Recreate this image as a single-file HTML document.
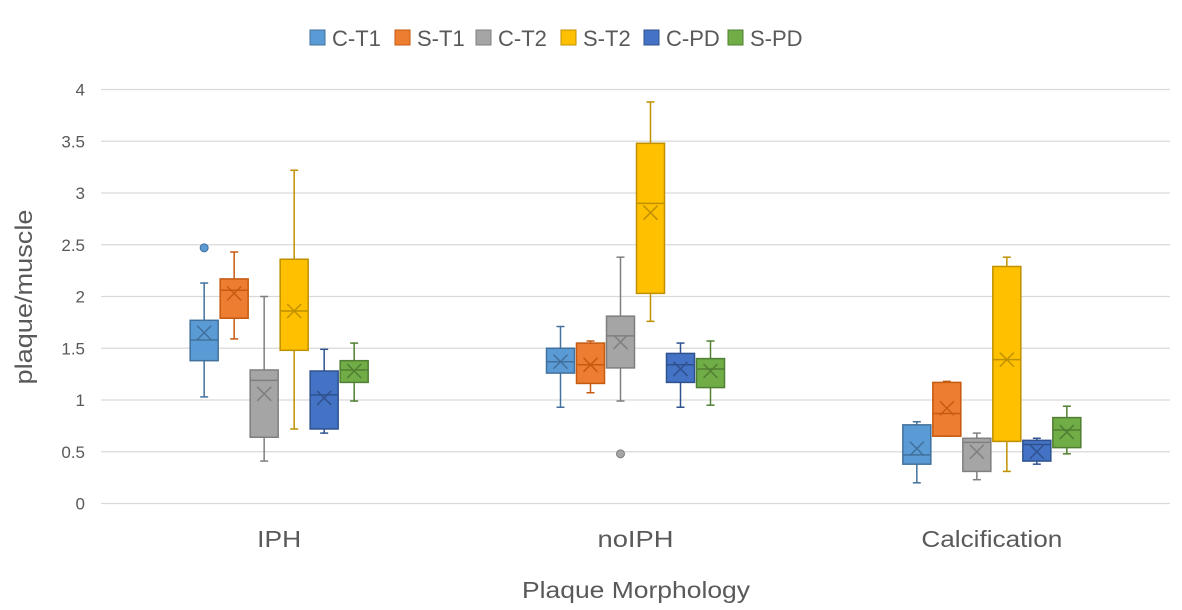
<!DOCTYPE html>
<html><head><meta charset="utf-8"><style>
body{margin:0;background:#fff;}
svg{display:block;font-family:"Liberation Sans",sans-serif;}
</style></head><body>
<svg id="chart" width="1182" height="610" viewBox="0 0 1182 610">
<rect width="1182" height="610" fill="#fff"/>
<g id="grid"></g>
<g id="ylabels"></g>
<g id="boxes"></g>
<g id="xlabels"></g>
<g id="legend"></g>
<text x="32" y="297" transform="rotate(-90 32 297)" text-anchor="middle" font-size="24" textLength="175" lengthAdjust="spacingAndGlyphs" fill="#595959">plaque/muscle</text>
<text x="636" y="598" text-anchor="middle" font-size="23" textLength="228" lengthAdjust="spacingAndGlyphs" fill="#595959">Plaque Morphology</text>
</svg>
<script>
const categories=["IPH","noIPH","Calcification"];
const catLabelLen=[44,76,141];
const seriesNames=["C-T1","S-T1","C-T2","S-T2","C-PD","S-PD"];
const fills=["#5b9bd5","#ed7d31","#a5a5a5","#ffc000","#4472c4","#70ad47"];
const strokes=["#41719c","#c55a11","#7f7f7f","#bf9000","#2f528f","#507e32"];
const yTicks=[0,0.5,1,1.5,2,2.5,3,3.5,4];
const yTickLabels=["0","0.5","1","1.5","2","2.5","3","3.5","4"];
// per series: [min,q1,median,q3,max,mean] for each category
const cT1=[[1.03,1.38,1.58,1.77,2.13,1.65],[0.93,1.26,1.37,1.50,1.71,1.37],[0.20,0.38,0.47,0.76,0.79,0.53]];
const sT1=[[1.59,1.79,2.06,2.17,2.43,2.03],[1.07,1.16,1.34,1.55,1.57,1.34],[0.65,0.65,0.87,1.17,1.18,0.92]];
const cT2=[[0.41,0.64,1.19,1.29,2.00,1.06],[0.99,1.31,1.62,1.81,2.38,1.56],[0.23,0.31,0.59,0.63,0.68,0.50]];
const sT2=[[0.72,1.48,1.86,2.36,3.22,1.86],[1.76,2.03,2.90,3.48,3.88,2.81],[0.31,0.60,1.39,2.29,2.38,1.39]];
const cPD=[[0.68,0.72,1.05,1.28,1.49,1.02],[0.93,1.17,1.34,1.45,1.55,1.30],[0.38,0.41,0.57,0.61,0.63,0.50]];
const sPD=[[0.99,1.17,1.29,1.38,1.55,1.28],[0.95,1.12,1.30,1.40,1.57,1.28],[0.48,0.54,0.71,0.83,0.94,0.69]];
const outliers=[{s:0,c:0,v:2.47},{s:2,c:1,v:0.48}];
const allSeries=[cT1,sT1,cT2,sT2,cPD,sPD];

const NS="http://www.w3.org/2000/svg";
const X0=101,X1=1170,Y0=503.5,Y1=89.5,YMAX=4;
const y=v=>Y0-(v/YMAX)*(Y0-Y1);
const catW=(X1-X0)/categories.length;
const slot=30,boxW=28;
const xc=(c,s)=>X0+catW*(c+0.5)+(s-(seriesNames.length-1)/2)*slot;
function mk(tag,attrs,parent){const e=document.createElementNS(NS,tag);for(const k in attrs)e.setAttribute(k,attrs[k]);parent.appendChild(e);return e;}

const grid=document.getElementById('grid'),yl=document.getElementById('ylabels');
yTicks.forEach((t,i)=>{
  const l=mk('line',{x1:X0,x2:X1,y1:y(t),y2:y(t),stroke:'#d9d9d9','stroke-width':1.3},grid);
  
  
  const tx=mk('text',{x:85,y:y(t)+6,'text-anchor':'end','font-size':17,fill:'#595959'},yl);
  tx.textContent=yTickLabels[i];
  
  
});
const bx=document.getElementById('boxes');
allSeries.forEach((ser,s)=>{
  ser.forEach((d,c)=>{
    const g=mk('g',{},bx);
    
    
    const cx=xc(c,s),st=strokes[s];
    const [mn,q1,md,q3,mx,mean]=d;
    mk('line',{x1:cx,x2:cx,y1:y(mx),y2:y(q3),stroke:st,'stroke-width':1.5},g);
    mk('line',{x1:cx,x2:cx,y1:y(q1),y2:y(mn),stroke:st,'stroke-width':1.5},g);
    mk('line',{x1:cx-4,x2:cx+4,y1:y(mx),y2:y(mx),stroke:st,'stroke-width':1.5},g);
    mk('line',{x1:cx-4,x2:cx+4,y1:y(mn),y2:y(mn),stroke:st,'stroke-width':1.5},g);
    mk('rect',{x:cx-boxW/2,y:y(q3),width:boxW,height:Math.max(1,y(q1)-y(q3)),fill:fills[s],stroke:st,'stroke-width':1.5},g);
    mk('line',{x1:cx-boxW/2,x2:cx+boxW/2,y1:y(md),y2:y(md),stroke:st,'stroke-width':1.5},g);
    const my=y(mean);
    mk('path',{d:`M${cx-7} ${my-7}L${cx+7} ${my+7}M${cx+7} ${my-7}L${cx-7} ${my+7}`,stroke:st,'stroke-width':1.5,fill:'none'},g);
  });
});
outliers.forEach(o=>{
  const e=mk('circle',{cx:xc(o.c,o.s),cy:y(o.v),r:4,fill:fills[o.s],stroke:strokes[o.s]},bx);
  
  
});
const xl=document.getElementById('xlabels');
categories.forEach((c,i)=>{
  const t=mk('text',{x:X0+catW*(i+0.5),y:547,'text-anchor':'middle','font-size':23,textLength:catLabelLen[i],lengthAdjust:'spacingAndGlyphs',fill:'#595959'},xl);
  t.textContent=c;
  
  
});
const lg=document.getElementById('legend');
const lgX=[310,395,476,561,644,728];
seriesNames.forEach((n,i)=>{
  const g=mk('g',{},lg);
  
  
  mk('rect',{x:lgX[i],y:30,width:15,height:15,fill:fills[i],stroke:strokes[i],'stroke-width':1},g);
  const t=mk('text',{x:lgX[i]+22,y:46,'font-size':22,fill:'#595959'},g);
  t.textContent=n;
});
</script>
</body></html>
